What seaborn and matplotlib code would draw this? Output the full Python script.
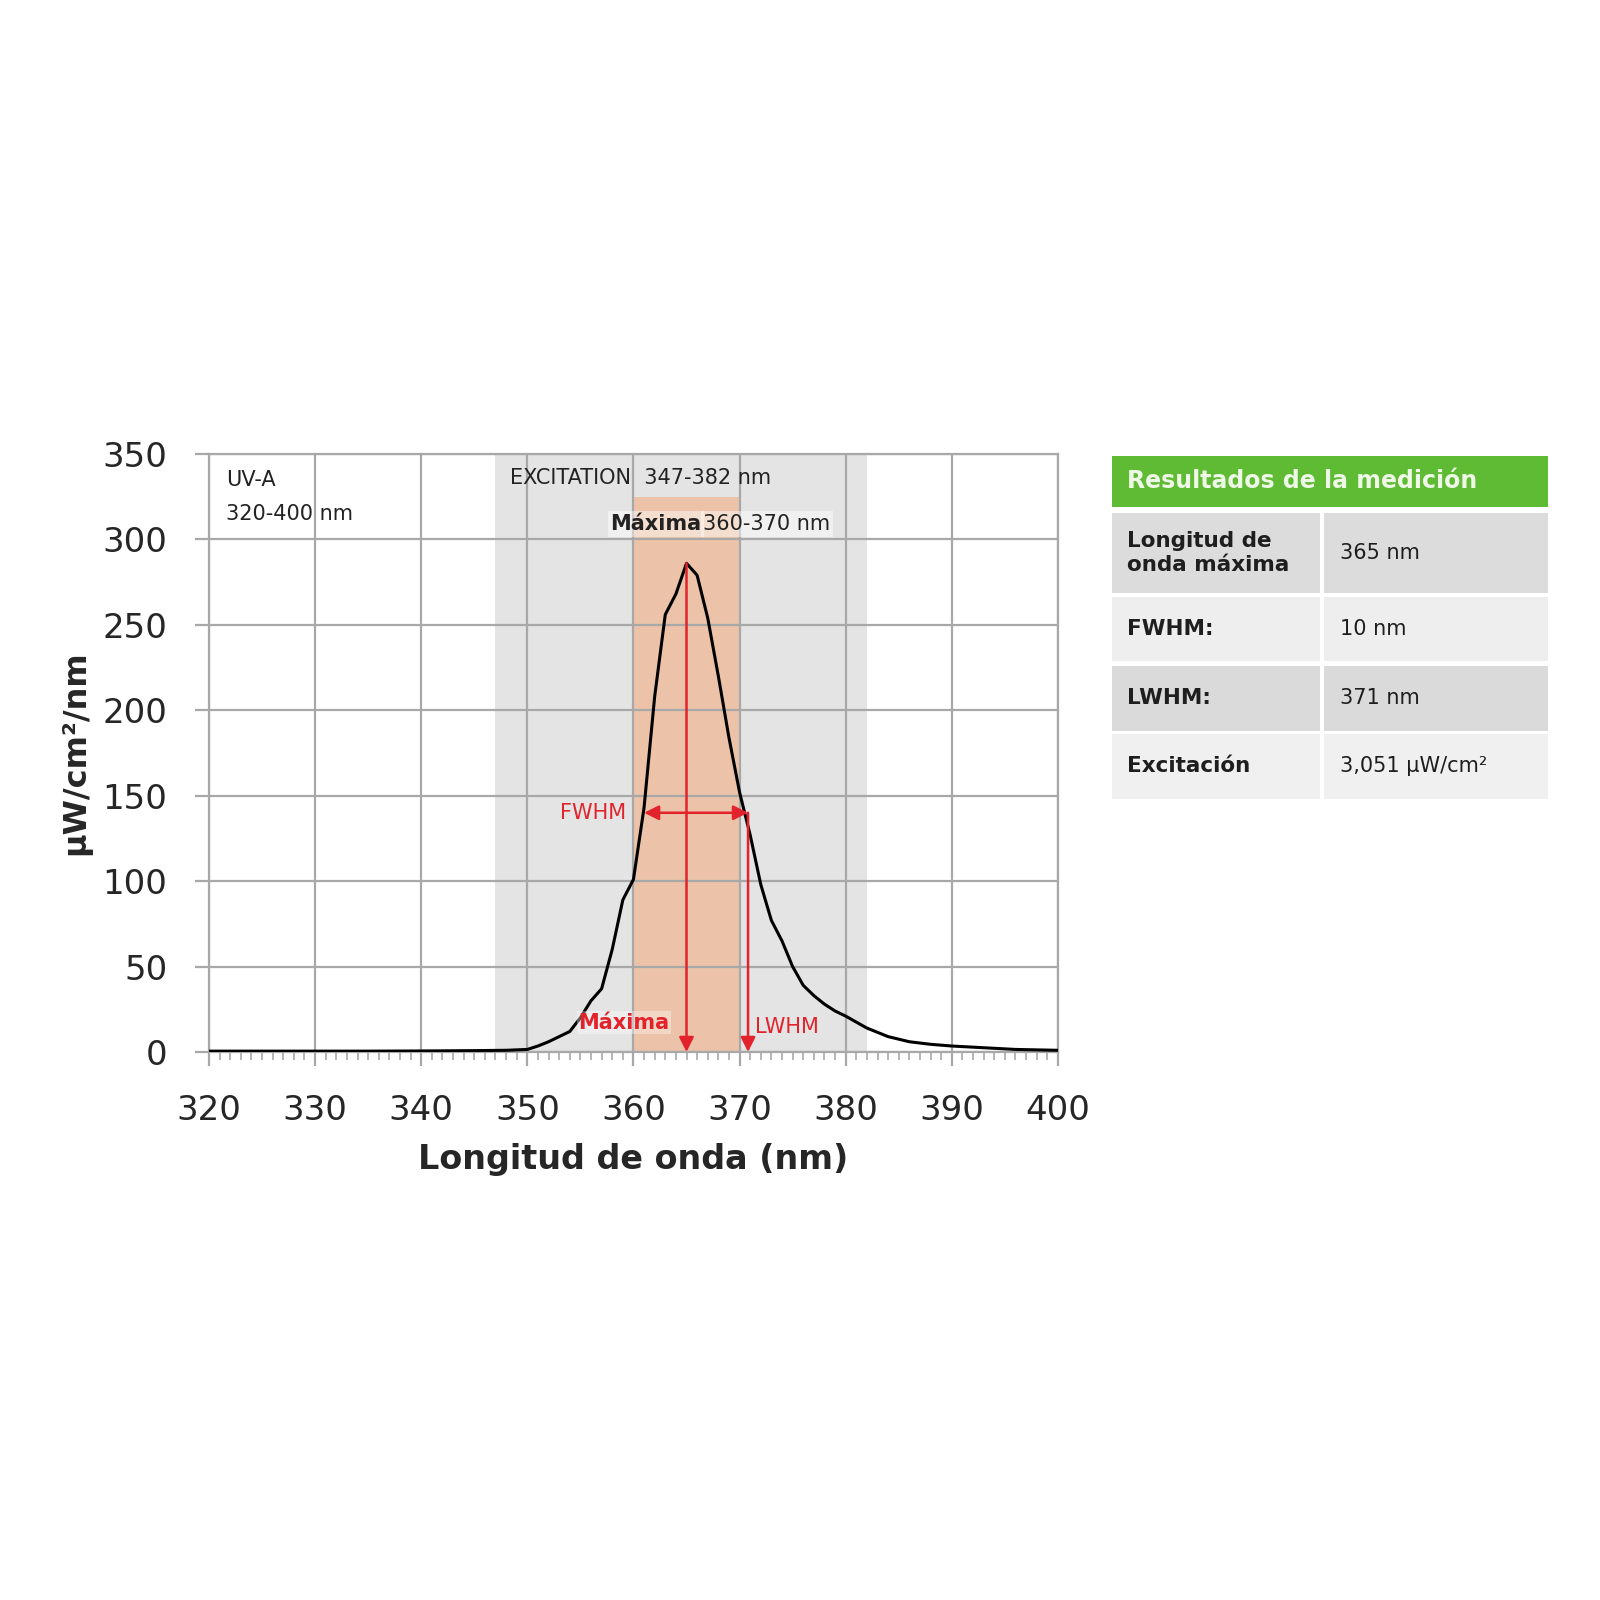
import seaborn as sns
import pandas as pd
import matplotlib.pyplot as plt
from matplotlib.patches import Rectangle

wavelength = [320, 325, 330, 335, 340, 345, 348,
              350, 351, 352, 353, 354, 355, 356, 357, 358, 359, 360,
              361, 362, 363, 364, 365, 366, 367, 368, 369, 370,
              371, 372, 373, 374, 375, 376, 377, 378, 379, 380,
              382, 384, 386, 388, 390, 393, 396, 400]
irradiance = [0.5, 0.5, 0.5, 0.5, 0.6, 0.8, 1.0,
              1.5, 3.5, 6, 9, 12, 20, 30, 37, 60, 89, 101,
              143, 208, 256, 268, 286, 279, 254, 220, 184, 152,
              127, 98, 77, 65, 50, 39, 33, 28, 24, 21,
              14, 9, 6, 4.5, 3.5, 2.5, 1.5, 1.0]

excitation_band = [347, 382]
maxima_band = [360, 370]
maxima_top = 325
peak_nm = 365
fwhm_left, fwhm_right, fwhm_level = 361, 370.8, 140

table_header = "Resultados de la medición"
table_labels = ["Longitud de\nonda máxima", "FWHM:", "LWHM:", "Excitación"]
table_values = ["365 nm", "10 nm", "371 nm", "3,051 µW/cm²"]

df = pd.DataFrame({"Longitud": wavelength, "Irradiancia": irradiance})

sns.set_style("white")
plt.rcParams['font.family'] = ['DejaVu Sans']

fig = plt.figure(figsize=(16, 16), dpi=100)
ax = fig.add_axes([0.1306, 0.3425, 0.5306, 0.3738])

red = "#e2232b"
gridc = "#a8a8a8"

ax.axvspan(*excitation_band, color="#e4e4e4", zorder=0.5, lw=0)
ax.axvspan(*maxima_band, ymin=0, ymax=maxima_top / 350, color="#ecc3a8", zorder=0.6, lw=0)

sns.lineplot(data=df, x="Longitud", y="Irradiancia", color="black", lw=2.2, ax=ax, zorder=3)

ax.set_xlim(320, 400)
ax.set_ylim(0, 350)
ax.set_xticks(range(320, 401, 10))
ax.set_xticks(range(320, 401, 1), minor=True)
ax.set_yticks(range(0, 351, 50))
ax.grid(True, which="major", color=gridc, lw=1.6)
ax.set_axisbelow(False)
for s in ax.spines.values():
    s.set_color(gridc)
    s.set_linewidth(1.6)
ax.tick_params(axis="both", which="major", direction="out", length=10, width=1.6,
               color=gridc, labelsize=24.5, labelcolor="#262626",
               bottom=True, left=True)
ax.tick_params(axis="y", which="major", pad=20)
ax.tick_params(axis="x", which="minor", direction="out", length=6, width=1.2, color=gridc,
               bottom=True)
ax.tick_params(axis="x", which="major", pad=20)

ax.set_xlabel("Longitud de onda (nm)", fontsize=24, fontweight="bold", color="#262626", labelpad=12)
ax.set_ylabel("µW/cm²/nm", fontsize=23, fontweight="bold", color="#262626", labelpad=8)

# Anotaciones de texto
ax.text(321.6, 335, "UV-A", fontsize=15, color="#222222", va="center", zorder=5)
ax.text(321.6, 315, "320-400 nm", fontsize=15, color="#222222", va="center", zorder=5)
ax.text(348.4, 336, "EXCITATION  347-382 nm", fontsize=15, color="#222222", va="center", zorder=5)
box = dict(facecolor="white", alpha=0.45, edgecolor="none", pad=2)
ax.text(366.4, 309, "Máxima", fontsize=15, fontweight="bold", color="#222222",
        ha="right", va="center", zorder=5, bbox=box)
ax.text(366.6, 309, "360-370 nm", fontsize=15, color="#222222",
        ha="left", va="center", zorder=5, bbox=box)

# Flechas rojas
arrow = dict(arrowstyle="-|>", color=red, lw=1.8, mutation_scale=22, shrinkA=0, shrinkB=0)
ax.annotate("", xy=(peak_nm, 0), xytext=(peak_nm, 286), arrowprops=arrow, zorder=4)
ax.annotate("", xy=(fwhm_right, 0), xytext=(fwhm_right, fwhm_level), arrowprops=arrow, zorder=4)
ax.annotate("", xy=(fwhm_left, fwhm_level), xytext=(fwhm_right, fwhm_level),
            arrowprops=dict(arrowstyle="<|-|>", color=red, lw=1.8, mutation_scale=22,
                            shrinkA=0, shrinkB=0), zorder=4)
ax.text(359.3, fwhm_level, "FWHM", fontsize=15, color=red, ha="right", va="center", zorder=5)
ax.text(371.5, 14.5, "LWHM", fontsize=15, color=red, ha="left", va="center", zorder=5)
ax.text(359.1, 17, "Máxima", fontsize=15, fontweight="bold", color=red, ha="center", va="center",
        zorder=5, bbox=dict(facecolor="white", alpha=0.35, edgecolor="none", pad=1))

# Tabla de resultados
tx = fig.add_axes([0, 0, 1, 1])
tx.set_xlim(0, 1600)
tx.set_ylim(1600, 0)
tx.axis("off")
left, mid, right = 1112, 1322, 1548
tx.add_patch(Rectangle((left, 456), right - left, 51, color="#5fba34", lw=0))
tx.text(left + 15, 481, table_header, fontsize=17, fontweight="bold", color="#eef8e6", va="center")
rows = [(513, 593), (597, 661), (666, 731), (734, 799)]
shades = ["#dcdcdc", "#eeeeee", "#dadada", "#f0f0f0"]
for (top, bot), shade, lab, val in zip(rows, shades, table_labels, table_values):
    tx.add_patch(Rectangle((left, top), mid - 2 - left, bot - top, color=shade, lw=0))
    tx.add_patch(Rectangle((mid + 2, top), right - mid - 2, bot - top, color=shade, lw=0))
    yc = (top + bot) / 2
    tx.text(left + 15, yc, lab, fontsize=15.5, fontweight="bold", color="#1e1e1e",
            va="center", linespacing=1.25)
    tx.text(mid + 18, yc, val, fontsize=15, color="#1e1e1e", va="center")

plt.savefig("out.png", dpi=100)
